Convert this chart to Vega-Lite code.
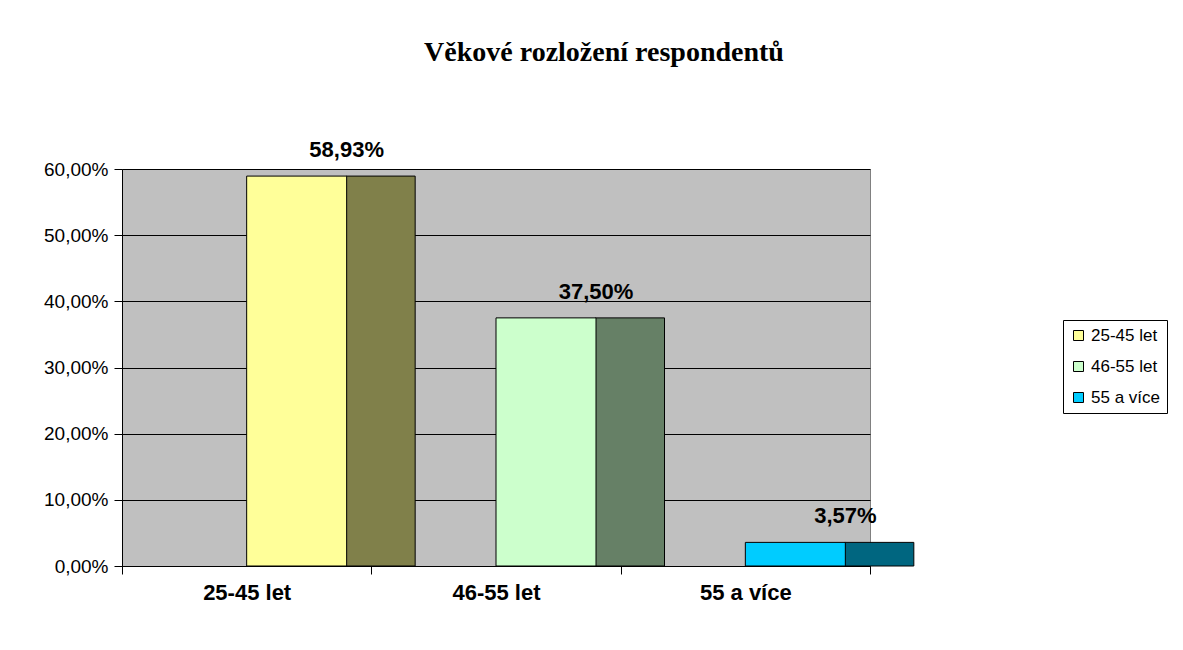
{
  "$schema": "https://vega.github.io/schema/vega-lite/v6.json",
  "autosize": "none",
  "width": 748,
  "height": 397,
  "padding": {"left": 122, "top": 169, "right": 313, "bottom": 84},
  "background": "white",
  "title": {
    "text": "Věkové rozložení respondentů",
    "font": "Liberation Serif",
    "fontSize": 28,
    "fontWeight": "bold",
    "color": "black",
    "anchor": "middle",
    "dx": 108,
    "offset": 72
  },
  "data": {
    "values": [
      {"group": "25-45 let", "value": 0.5893, "label": "58,93%", "side": "#80804A"},
      {"group": "46-55 let", "value": 0.375, "label": "37,50%", "side": "#668066"},
      {"group": "55 a více", "value": 0.0357, "label": "3,57%", "side": "#006680"}
    ]
  },
  "config": {
    "view": {"fill": "#C0C0C0", "stroke": "#808080"},
    "font": "Liberation Sans"
  },
  "encoding": {
    "x": {
      "field": "group",
      "type": "nominal",
      "sort": null,
      "scale": {"paddingInner": 0, "paddingOuter": 0},
      "axis": {
        "title": null,
        "labelAngle": 0,
        "labelFont": "Liberation Sans",
        "labelFontSize": 22,
        "labelFontWeight": "bold",
        "labelColor": "black",
        "labelPadding": 8,
        "domainColor": "black",
        "tickColor": "black",
        "tickSize": 8,
        "tickBand": "extent"
      }
    },
    "y": {
      "field": "value",
      "type": "quantitative",
      "scale": {"domain": [0, 0.6], "nice": false},
      "axis": {
        "title": null,
        "values": [0, 0.1, 0.2, 0.3, 0.4, 0.5, 0.6],
        "labelExpr": "replace(format(datum.value, '.2%'), '.', ',')",
        "labelFont": "Liberation Sans",
        "labelFontSize": 19,
        "labelColor": "black",
        "labelPadding": 6,
        "domainColor": "black",
        "tickColor": "black",
        "tickSize": 8,
        "gridColor": "black",
        "gridWidth": 1,
        "gridOpacity": 1
      }
    }
  },
  "layer": [
    {
      "mark": {"type": "bar", "width": 69, "xOffset": 134, "stroke": "black", "strokeWidth": 1},
      "encoding": {
        "color": {"field": "side", "type": "nominal", "scale": null}
      }
    },
    {
      "mark": {"type": "bar", "width": 100, "xOffset": 50, "stroke": "black", "strokeWidth": 1},
      "encoding": {
        "color": {
          "field": "group",
          "type": "nominal",
          "sort": null,
          "scale": {"domain": ["25-45 let", "46-55 let", "55 a více"], "range": ["#FFFF99", "#CCFFCC", "#00CCFF"]},
          "legend": {
            "title": null,
            "orient": "none",
            "legendX": 941,
            "legendY": 151,
            "symbolType": "square",
            "symbolSize": 100,
            "symbolStrokeColor": "black",
            "symbolStrokeWidth": 1,
            "labelFont": "Liberation Sans",
            "labelFontSize": 17,
            "labelColor": "black",
            "rowPadding": 13,
            "padding": 7,
            "strokeColor": "black",
            "fillColor": "white"
          }
        }
      }
    },
    {
      "mark": {"type": "text", "xOffset": 100, "dy": -26, "font": "Liberation Sans", "fontSize": 22, "fontWeight": "bold", "color": "black"},
      "encoding": {
        "text": {"field": "label"}
      }
    }
  ]
}
